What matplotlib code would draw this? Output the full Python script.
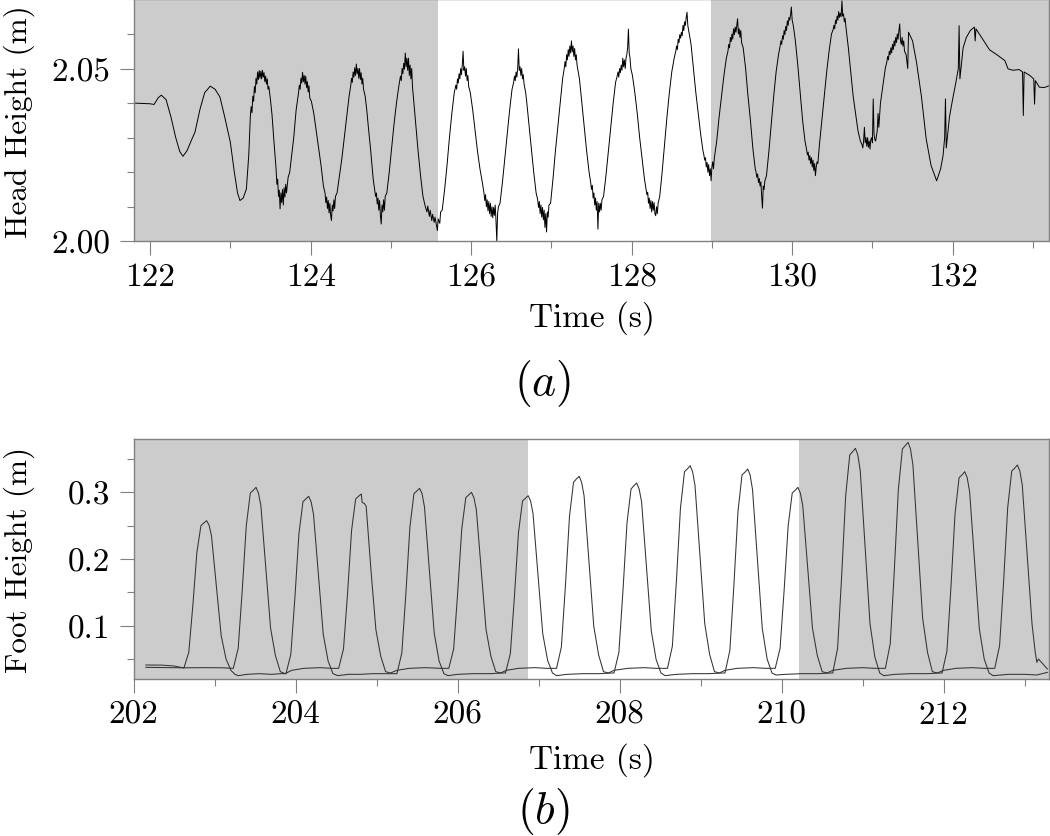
import matplotlib
matplotlib.use("Agg")
import matplotlib.pyplot as plt
from matplotlib.ticker import MultipleLocator, FormatStrFormatter

plt.rcParams['font.family'] = ['cmr10', 'DejaVu Serif']
plt.rcParams['mathtext.fontset'] = 'cm'
plt.rcParams['axes.unicode_minus'] = False
plt.rcParams['axes.formatter.use_mathtext'] = True

# ---------------- data: panel (a) head height (time, height) ----------------
head_pts = [
    (121.80, 2.0400), (121.90, 2.0399), (122.00, 2.0398), (122.05, 2.0396), (122.10, 2.0415),
    (122.14, 2.0423), (122.20, 2.0410), (122.26, 2.0360), (122.32, 2.0300), (122.37, 2.0260),
    (122.41, 2.0246), (122.46, 2.0262), (122.52, 2.0295), (122.56, 2.0316), (122.62, 2.0380),
    (122.68, 2.0430), (122.75, 2.0449), (122.81, 2.0440), (122.87, 2.0418), (122.93, 2.0360),
    (123.00, 2.0287), (123.05, 2.0200), (123.09, 2.0140), (123.12, 2.0118), (123.16, 2.0125),
    (123.20, 2.0151), (123.23, 2.0250),
    (123.25, 2.0364), (123.26, 2.0390), (123.27, 2.0372), (123.28, 2.0420), (123.29, 2.0405),
    (123.30, 2.0448), (123.31, 2.0430), (123.32, 2.0472), (123.33, 2.0455), (123.34, 2.0490),
    (123.35, 2.0468), (123.36, 2.0494), (123.37, 2.0472), (123.38, 2.0492), (123.39, 2.0470),
    (123.40, 2.0495), (123.41, 2.0475), (123.42, 2.0488), (123.43, 2.0462), (123.44, 2.0478),
    (123.45, 2.0455), (123.46, 2.0470), (123.47, 2.0440), (123.48, 2.0448), (123.50, 2.0410),
    (123.52, 2.0365), (123.54, 2.0300), (123.57, 2.0210), (123.58, 2.0165), (123.59, 2.0180),
    (123.60, 2.0130), (123.61, 2.0148), (123.62, 2.0094), (123.63, 2.0140), (123.64, 2.0112),
    (123.65, 2.0150), (123.66, 2.0105), (123.67, 2.0155), (123.68, 2.0128), (123.69, 2.0165),
    (123.70, 2.0140), (123.72, 2.0185), (123.74, 2.0200), (123.76, 2.0240), (123.79, 2.0300),
    (123.82, 2.0380), (123.85, 2.0430), (123.86, 2.0452), (123.87, 2.0440), (123.88, 2.0472),
    (123.89, 2.0458), (123.90, 2.0489), (123.91, 2.0462), (123.92, 2.0480), (123.93, 2.0455),
    (123.94, 2.0478), (123.95, 2.0445), (123.96, 2.0462), (123.97, 2.0432), (123.98, 2.0450),
    (123.99, 2.0415), (124.01, 2.0405), (124.04, 2.0370), (124.07, 2.0320), (124.10, 2.0270),
    (124.13, 2.0220), (124.16, 2.0160), (124.18, 2.0140), (124.19, 2.0112), (124.20, 2.0128),
    (124.21, 2.0095), (124.22, 2.0118), (124.23, 2.0082), (124.24, 2.0110), (124.25, 2.0075),
    (124.26, 2.0060), (124.27, 2.0105), (124.28, 2.0088), (124.29, 2.0120), (124.30, 2.0095),
    (124.31, 2.0130), (124.33, 2.0140), (124.36, 2.0190), (124.39, 2.0240), (124.42, 2.0300),
    (124.45, 2.0360), (124.48, 2.0420), (124.50, 2.0450), (124.51, 2.0472), (124.52, 2.0460),
    (124.53, 2.0490), (124.54, 2.0475), (124.55, 2.0502), (124.56, 2.0480), (124.57, 2.0513),
    (124.58, 2.0485), (124.59, 2.0500), (124.60, 2.0472), (124.61, 2.0500), (124.62, 2.0468),
    (124.63, 2.0488), (124.64, 2.0455), (124.65, 2.0472), (124.66, 2.0440), (124.68, 2.0420),
    (124.70, 2.0380), (124.72, 2.0330), (124.75, 2.0260), (124.78, 2.0180), (124.81, 2.0130),
    (124.82, 2.0140), (124.83, 2.0108), (124.84, 2.0125), (124.85, 2.0090), (124.86, 2.0118),
    (124.87, 2.0075), (124.88, 2.0050), (124.89, 2.0105), (124.90, 2.0085), (124.91, 2.0120),
    (124.92, 2.0090), (124.93, 2.0130), (124.95, 2.0140), (124.98, 2.0200), (125.01, 2.0270),
    (125.04, 2.0340), (125.07, 2.0400), (125.10, 2.0450), (125.12, 2.0478), (125.13, 2.0465),
    (125.14, 2.0500), (125.15, 2.0485), (125.16, 2.0515), (125.17, 2.0498), (125.18, 2.0545),
    (125.19, 2.0505), (125.20, 2.0530), (125.21, 2.0495), (125.22, 2.0530), (125.23, 2.0480),
    (125.24, 2.0510), (125.25, 2.0470), (125.26, 2.0500), (125.27, 2.0445), (125.28, 2.0420),
    (125.31, 2.0340), (125.34, 2.0260), (125.37, 2.0190), (125.40, 2.0130), (125.43, 2.0100),
    (125.45, 2.0085), (125.46, 2.0102), (125.48, 2.0072), (125.49, 2.0090), (125.51, 2.0060),
    (125.52, 2.0078), (125.54, 2.0055), (125.55, 2.0070), (125.57, 2.0045), (125.58, 2.0031),
    (125.59, 2.0065), (125.61, 2.0052), (125.62, 2.0085), (125.64, 2.0090), (125.67, 2.0150),
    (125.70, 2.0220), (125.73, 2.0300), (125.76, 2.0370), (125.79, 2.0430), (125.81, 2.0452),
    (125.82, 2.0440), (125.83, 2.0470), (125.84, 2.0458), (125.85, 2.0485), (125.86, 2.0470),
    (125.87, 2.0500), (125.88, 2.0482), (125.89, 2.0510), (125.90, 2.0550), (125.91, 2.0495),
    (125.92, 2.0505), (125.93, 2.0478), (125.94, 2.0500), (125.95, 2.0465), (125.96, 2.0480),
    (125.97, 2.0448), (125.99, 2.0430), (126.02, 2.0380), (126.05, 2.0320), (126.08, 2.0260),
    (126.11, 2.0210), (126.14, 2.0170), (126.16, 2.0140), (126.17, 2.0118), (126.18, 2.0135),
    (126.19, 2.0100), (126.20, 2.0120), (126.21, 2.0088), (126.22, 2.0115), (126.23, 2.0080),
    (126.24, 2.0110), (126.25, 2.0072), (126.26, 2.0100), (126.27, 2.0068), (126.28, 2.0098),
    (126.29, 2.0075), (126.30, 2.0105), (126.31, 2.0060), (126.32, 2.0000), (126.33, 2.0080),
    (126.34, 2.0100), (126.36, 2.0110), (126.39, 2.0170), (126.42, 2.0240), (126.45, 2.0310),
    (126.48, 2.0380), (126.51, 2.0440), (126.53, 2.0460), (126.54, 2.0478), (126.55, 2.0465),
    (126.56, 2.0490), (126.57, 2.0475), (126.58, 2.0500), (126.59, 2.0557), (126.60, 2.0495),
    (126.61, 2.0505), (126.62, 2.0480), (126.63, 2.0500), (126.64, 2.0470), (126.65, 2.0482),
    (126.66, 2.0455), (126.68, 2.0430), (126.69, 2.0410), (126.72, 2.0340), (126.75, 2.0270),
    (126.78, 2.0200), (126.81, 2.0140), (126.83, 2.0120), (126.84, 2.0098), (126.85, 2.0115),
    (126.86, 2.0080), (126.87, 2.0105), (126.88, 2.0070), (126.89, 2.0098), (126.90, 2.0062),
    (126.91, 2.0090), (126.92, 2.0040), (126.93, 2.0080), (126.94, 2.0027), (126.95, 2.0085),
    (126.96, 2.0070), (126.97, 2.0105), (126.99, 2.0110), (127.02, 2.0180), (127.05, 2.0260),
    (127.08, 2.0330), (127.11, 2.0400), (127.14, 2.0470), (127.16, 2.0500), (127.17, 2.0520),
    (127.18, 2.0505), (127.19, 2.0540), (127.20, 2.0525), (127.21, 2.0555), (127.22, 2.0535),
    (127.23, 2.0565), (127.24, 2.0545), (127.25, 2.0580), (127.26, 2.0548), (127.27, 2.0565),
    (127.28, 2.0535), (127.29, 2.0558), (127.30, 2.0525), (127.31, 2.0540), (127.32, 2.0510),
    (127.35, 2.0470), (127.38, 2.0400), (127.41, 2.0330), (127.44, 2.0260), (127.47, 2.0200),
    (127.49, 2.0170), (127.50, 2.0150), (127.51, 2.0162), (127.52, 2.0125), (127.53, 2.0140),
    (127.54, 2.0105), (127.55, 2.0125), (127.56, 2.0090), (127.57, 2.0115), (127.58, 2.0035),
    (127.59, 2.0110), (127.60, 2.0085), (127.61, 2.0110), (127.62, 2.0090), (127.63, 2.0120),
    (127.65, 2.0130), (127.68, 2.0190), (127.71, 2.0260), (127.74, 2.0330), (127.77, 2.0400),
    (127.80, 2.0460), (127.82, 2.0478), (127.83, 2.0490), (127.84, 2.0475), (127.85, 2.0500),
    (127.86, 2.0488), (127.87, 2.0510), (127.88, 2.0495), (127.89, 2.0530), (127.90, 2.0505),
    (127.91, 2.0525), (127.92, 2.0500), (127.93, 2.0530), (127.94, 2.0540), (127.95, 2.0560),
    (127.96, 2.0614), (127.97, 2.0545), (127.98, 2.0530), (127.99, 2.0500), (128.01, 2.0480),
    (128.04, 2.0430), (128.07, 2.0370), (128.10, 2.0300), (128.13, 2.0240), (128.16, 2.0180),
    (128.18, 2.0150), (128.19, 2.0135), (128.20, 2.0142), (128.21, 2.0110), (128.22, 2.0125),
    (128.23, 2.0095), (128.24, 2.0118), (128.25, 2.0085), (128.26, 2.0115), (128.27, 2.0090),
    (128.28, 2.0112), (128.29, 2.0080), (128.30, 2.0074), (128.31, 2.0100), (128.32, 2.0080),
    (128.33, 2.0110), (128.35, 2.0130), (128.38, 2.0200), (128.41, 2.0280), (128.44, 2.0360),
    (128.47, 2.0430), (128.50, 2.0490), (128.53, 2.0530), (128.55, 2.0550), (128.56, 2.0565),
    (128.57, 2.0555), (128.58, 2.0585), (128.59, 2.0575), (128.60, 2.0598), (128.61, 2.0588),
    (128.62, 2.0605), (128.63, 2.0595), (128.64, 2.0625), (128.65, 2.0610), (128.66, 2.0635),
    (128.67, 2.0625), (128.68, 2.0648), (128.69, 2.0663), (128.70, 2.0625), (128.71, 2.0610),
    (128.72, 2.0598), (128.74, 2.0570), (128.77, 2.0500), (128.80, 2.0430), (128.83, 2.0370),
    (128.86, 2.0310), (128.89, 2.0260), (128.90, 2.0250), (128.91, 2.0235), (128.92, 2.0242),
    (128.93, 2.0215), (128.94, 2.0228), (128.95, 2.0200), (128.96, 2.0222), (128.97, 2.0190),
    (128.98, 2.0210), (128.99, 2.0175), (129.00, 2.0215), (129.01, 2.0230), (129.02, 2.0210),
    (129.03, 2.0240), (129.06, 2.0290), (129.09, 2.0360), (129.12, 2.0420), (129.15, 2.0480),
    (129.18, 2.0530), (129.20, 2.0550), (129.21, 2.0570), (129.22, 2.0560), (129.23, 2.0590),
    (129.24, 2.0578), (129.25, 2.0600), (129.26, 2.0585), (129.27, 2.0615), (129.28, 2.0598),
    (129.29, 2.0620), (129.30, 2.0605), (129.31, 2.0625), (129.32, 2.0644), (129.33, 2.0600),
    (129.34, 2.0615), (129.35, 2.0590), (129.36, 2.0610), (129.37, 2.0575), (129.39, 2.0560),
    (129.42, 2.0500), (129.45, 2.0420), (129.48, 2.0350), (129.51, 2.0270), (129.54, 2.0210),
    (129.55, 2.0200), (129.56, 2.0185), (129.57, 2.0195), (129.58, 2.0170), (129.59, 2.0182),
    (129.60, 2.0160), (129.61, 2.0172), (129.62, 2.0130), (129.63, 2.0096), (129.64, 2.0160),
    (129.65, 2.0150), (129.66, 2.0175), (129.68, 2.0190), (129.71, 2.0260), (129.74, 2.0340),
    (129.77, 2.0420), (129.80, 2.0490), (129.83, 2.0540), (129.85, 2.0565), (129.86, 2.0580),
    (129.87, 2.0570), (129.88, 2.0595), (129.89, 2.0585), (129.90, 2.0610), (129.91, 2.0598),
    (129.92, 2.0622), (129.93, 2.0610), (129.94, 2.0638), (129.95, 2.0625), (129.96, 2.0648),
    (129.97, 2.0640), (129.98, 2.0655), (129.99, 2.0678), (130.00, 2.0640), (130.01, 2.0630),
    (130.02, 2.0615), (130.04, 2.0580), (130.07, 2.0510), (130.10, 2.0430), (130.13, 2.0350),
    (130.16, 2.0290), (130.18, 2.0265), (130.19, 2.0250), (130.20, 2.0258), (130.21, 2.0235),
    (130.22, 2.0248), (130.23, 2.0225), (130.24, 2.0242), (130.25, 2.0215), (130.26, 2.0235),
    (130.27, 2.0205), (130.28, 2.0225), (130.29, 2.0190), (130.30, 2.0215), (130.31, 2.0230),
    (130.32, 2.0225), (130.34, 2.0280), (130.37, 2.0350), (130.40, 2.0420), (130.43, 2.0490),
    (130.46, 2.0550), (130.49, 2.0600), (130.51, 2.0612), (130.52, 2.0625), (130.53, 2.0615),
    (130.54, 2.0640), (130.55, 2.0630), (130.56, 2.0652), (130.57, 2.0640), (130.58, 2.0665),
    (130.59, 2.0648), (130.60, 2.0660), (130.61, 2.0650), (130.62, 2.0696), (130.63, 2.0652),
    (130.64, 2.0658), (130.65, 2.0635), (130.66, 2.0645), (130.67, 2.0620), (130.70, 2.0560),
    (130.73, 2.0490), (130.76, 2.0420), (130.79, 2.0370), (130.82, 2.0320), (130.85, 2.0290),
    (130.87, 2.0280), (130.88, 2.0270), (130.89, 2.0290), (130.90, 2.0330), (130.91, 2.0285),
    (130.92, 2.0300), (130.93, 2.0275), (130.94, 2.0300), (130.95, 2.0272), (130.96, 2.0290),
    (130.97, 2.0267), (130.98, 2.0295), (130.99, 2.0300), (131.00, 2.0285), (131.01, 2.0412),
    (131.02, 2.0310), (131.03, 2.0295), (131.04, 2.0290), (131.06, 2.0320), (131.07, 2.0370),
    (131.08, 2.0330), (131.10, 2.0400), (131.13, 2.0450), (131.16, 2.0500), (131.18, 2.0520),
    (131.19, 2.0535), (131.20, 2.0525), (131.21, 2.0550), (131.22, 2.0540), (131.23, 2.0560),
    (131.24, 2.0545), (131.25, 2.0570), (131.26, 2.0555), (131.27, 2.0580), (131.28, 2.0565),
    (131.29, 2.0590), (131.30, 2.0575), (131.31, 2.0600), (131.32, 2.0585), (131.33, 2.0610),
    (131.34, 2.0629), (131.35, 2.0580), (131.36, 2.0570), (131.37, 2.0590), (131.38, 2.0565),
    (131.39, 2.0580), (131.40, 2.0550), (131.42, 2.0540), (131.44, 2.0500), (131.45, 2.0605),
    (131.50, 2.0580), (131.55, 2.0517), (131.61, 2.0420), (131.67, 2.0296), (131.73, 2.0220),
    (131.80, 2.0175), (131.85, 2.0210), (131.88, 2.0248), (131.90, 2.0300), (131.91, 2.0412),
    (131.92, 2.0270), (131.96, 2.0360), (132.00, 2.0412), (132.04, 2.0460), (132.07, 2.0500),
    (132.08, 2.0624), (132.09, 2.0470), (132.13, 2.0560), (132.17, 2.0590), (132.22, 2.0610),
    (132.27, 2.0620), (132.28, 2.0580), (132.29, 2.0615), (132.36, 2.0590), (132.46, 2.0554),
    (132.55, 2.0540), (132.65, 2.0523), (132.69, 2.0499), (132.75, 2.0495), (132.83, 2.0497),
    (132.87, 2.0490), (132.88, 2.0364), (132.89, 2.0490), (132.96, 2.0480), (133.01, 2.0470),
    (133.02, 2.0397), (133.03, 2.0465), (133.08, 2.0446), (133.14, 2.0445), (133.20, 2.0450),
]
head_t = [p[0] for p in head_pts]
head_h = [p[1] for p in head_pts]

# ---------------- data: panel (b) foot heights ----------------
footA_t = [202.15, 202.35, 202.50, 202.60,
           202.62, 202.68, 202.73, 202.78, 202.83, 202.865, 202.90, 202.93, 202.96, 203.02, 203.08, 203.14, 203.20,
           203.25, 203.29, 203.40, 203.55, 203.70, 203.82,
           203.88, 203.94, 203.99, 204.04, 204.09, 204.125, 204.16, 204.19, 204.22, 204.28, 204.34, 204.40, 204.46,
           204.52, 204.65, 204.80, 204.95, 205.15,
           205.25, 205.31, 205.36, 205.41, 205.46, 205.495, 205.53, 205.56, 205.59, 205.65, 205.71, 205.77, 205.83,
           205.88, 206.00, 206.20, 206.40, 206.55,
           206.59, 206.65, 206.70, 206.75, 206.80, 206.835, 206.87, 206.90, 206.93, 206.99, 207.05, 207.11, 207.17,
           207.22, 207.35, 207.55, 207.75, 207.90,
           207.93, 207.99, 208.04, 208.09, 208.14, 208.175, 208.21, 208.24, 208.27, 208.33, 208.39, 208.45, 208.51,
           208.56, 208.70, 208.90, 209.10, 209.26,
           209.30, 209.36, 209.41, 209.46, 209.51, 209.545, 209.58, 209.61, 209.64, 209.70, 209.76, 209.82, 209.88,
           209.93, 210.05, 210.25, 210.45, 210.60,
           210.63, 210.69, 210.74, 210.79, 210.84, 210.875, 210.91, 210.94, 210.97, 211.03, 211.09, 211.15, 211.21,
           211.26, 211.40, 211.60, 211.80, 211.95,
           211.98, 212.04, 212.09, 212.14, 212.19, 212.225, 212.26, 212.29, 212.32, 212.38, 212.44, 212.50, 212.56,
           212.61, 212.80, 213.00, 213.15, 213.28]
footA_h = [0.0410, 0.0408, 0.0395, 0.0370,
           0.0365, 0.060, 0.130, 0.210, 0.250, 0.254, 0.2575, 0.251, 0.235, 0.160, 0.085, 0.050, 0.033,
           0.027, 0.025, 0.027, 0.028, 0.027, 0.028,
           0.028, 0.057, 0.142, 0.238, 0.286, 0.290, 0.294, 0.286, 0.267, 0.177, 0.087, 0.047, 0.028,
           0.025, 0.027, 0.027, 0.028, 0.028,
           0.028, 0.059, 0.148, 0.248, 0.298, 0.302, 0.306, 0.298, 0.278, 0.184, 0.089, 0.047, 0.028,
           0.025, 0.027, 0.028, 0.028, 0.029,
           0.029, 0.058, 0.143, 0.239, 0.287, 0.291, 0.295, 0.287, 0.268, 0.178, 0.088, 0.048, 0.029,
           0.025, 0.027, 0.028, 0.028, 0.029,
           0.029, 0.060, 0.152, 0.254, 0.305, 0.310, 0.314, 0.305, 0.286, 0.189, 0.092, 0.049, 0.029,
           0.025, 0.027, 0.028, 0.028, 0.029,
           0.029, 0.063, 0.161, 0.271, 0.326, 0.330, 0.335, 0.326, 0.304, 0.200, 0.096, 0.050, 0.029,
           0.026, 0.027, 0.028, 0.028, 0.029,
           0.029, 0.066, 0.174, 0.295, 0.356, 0.361, 0.366, 0.356, 0.332, 0.218, 0.103, 0.053, 0.029,
           0.025, 0.027, 0.028, 0.028, 0.029,
           0.029, 0.062, 0.159, 0.268, 0.322, 0.326, 0.331, 0.322, 0.301, 0.198, 0.095, 0.050, 0.029,
           0.025, 0.027, 0.027, 0.026, 0.030]

footB_t = [202.15, 202.40, 202.60, 202.90, 203.10,
           203.23, 203.29, 203.34, 203.39, 203.44, 203.475, 203.51, 203.54, 203.57, 203.63, 203.69, 203.75, 203.81,
           203.87, 203.95, 204.10, 204.30, 204.45,
           204.53, 204.59, 204.64, 204.69, 204.74, 204.775, 204.81, 204.82, 204.85, 204.87, 204.93, 204.99, 205.05, 205.11,
           205.17, 205.25, 205.40, 205.60, 205.80,
           205.89, 205.95, 206.00, 206.05, 206.10, 206.135, 206.17, 206.20, 206.23, 206.29, 206.35, 206.41, 206.47,
           206.53, 206.60, 206.75, 206.95, 207.10,
           207.22, 207.28, 207.33, 207.38, 207.43, 207.465, 207.50, 207.53, 207.56, 207.62, 207.68, 207.74, 207.80,
           207.86, 207.93, 208.10, 208.30, 208.45,
           208.59, 208.65, 208.70, 208.75, 208.80, 208.835, 208.87, 208.90, 208.93, 208.99, 209.05, 209.11, 209.17,
           209.23, 209.30, 209.45, 209.65, 209.80,
           209.92, 209.98, 210.03, 210.08, 210.13, 210.165, 210.20, 210.23, 210.26, 210.32, 210.38, 210.44, 210.50,
           210.56, 210.63, 210.80, 211.00, 211.15,
           211.28, 211.34, 211.39, 211.44, 211.49, 211.525, 211.56, 211.59, 211.62, 211.68, 211.74, 211.80, 211.86,
           211.92, 212.00, 212.15, 212.35, 212.50,
           212.63, 212.69, 212.74, 212.79, 212.84, 212.875, 212.91, 212.94, 212.97, 213.03, 213.09, 213.13,
           213.15, 213.17, 213.28]
footB_h = [0.0375, 0.0372, 0.0368, 0.0370, 0.0368,
           0.036, 0.066, 0.153, 0.250, 0.299, 0.303, 0.3075, 0.299, 0.280, 0.188, 0.096, 0.055, 0.031,
           0.028, 0.033, 0.036, 0.037, 0.036,
           0.036, 0.065, 0.148, 0.243, 0.290, 0.294, 0.2975, 0.285, 0.283, 0.279, 0.182, 0.094, 0.054, 0.031,
           0.029, 0.033, 0.036, 0.037, 0.036,
           0.036, 0.065, 0.150, 0.245, 0.292, 0.296, 0.300, 0.292, 0.274, 0.184, 0.094, 0.054, 0.031,
           0.029, 0.033, 0.036, 0.037, 0.036,
           0.036, 0.068, 0.160, 0.264, 0.315, 0.320, 0.324, 0.315, 0.295, 0.197, 0.099, 0.056, 0.031,
           0.029, 0.033, 0.036, 0.037, 0.036,
           0.036, 0.069, 0.167, 0.276, 0.331, 0.335, 0.340, 0.331, 0.310, 0.206, 0.103, 0.057, 0.031,
           0.029, 0.033, 0.036, 0.037, 0.036,
           0.036, 0.066, 0.153, 0.250, 0.299, 0.303, 0.3075, 0.299, 0.280, 0.188, 0.096, 0.055, 0.031,
           0.029, 0.033, 0.036, 0.037, 0.036,
           0.036, 0.073, 0.182, 0.304, 0.365, 0.370, 0.375, 0.365, 0.341, 0.226, 0.111, 0.060, 0.031,
           0.029, 0.033, 0.036, 0.037, 0.036,
           0.036, 0.070, 0.167, 0.277, 0.332, 0.336, 0.341, 0.332, 0.311, 0.207, 0.103, 0.060,
           0.045, 0.050, 0.035]

# shaded (grey) time windows
head_shade = [(121.80, 125.59), (128.99, 133.30)]
foot_shade = [(202.00, 206.87), (210.21, 213.40)]

head_xlim = (121.80, 133.20)
head_ylim = (2.00, 2.07)
foot_xlim = (202.00, 213.30)
foot_ylim = (0.02, 0.38)

# ---------------- figure ----------------
W, H = 1050, 837
fig = plt.figure(figsize=(W / 100, H / 100), dpi=100)
fig.patch.set_facecolor('white')

SHADE = '#cccccc'
SPINE = '#808080'
FS = 24


def style(ax):
    for sp in ax.spines.values():
        sp.set_color(SPINE)
        sp.set_linewidth(1.0)
    ax.tick_params(which='major', direction='out', length=10, width=0.8,
                   color=SPINE, labelsize=FS, pad=5)
    ax.tick_params(which='minor', direction='out', length=5, width=0.8, color=SPINE)
    ax.tick_params(axis='y', which='major', pad=7)


ax1 = fig.add_axes([134 / W, 1 - 242.3 / H, 915 / W, 242.3 / H - 0.0005])
for a, b in head_shade:
    ax1.axvspan(a, b, color=SHADE, lw=0, zorder=0)
ax1.plot(head_t, head_h, color='black', lw=0.7, zorder=2)
ax1.set_xlim(*head_xlim)
ax1.set_ylim(*head_ylim)
ax1.xaxis.set_major_locator(MultipleLocator(2))
ax1.xaxis.set_minor_locator(MultipleLocator(1))
ax1.yaxis.set_major_locator(MultipleLocator(0.05))
ax1.yaxis.set_minor_locator(MultipleLocator(0.01))
ax1.xaxis.set_major_formatter(FormatStrFormatter('%d'))
ax1.yaxis.set_major_formatter(FormatStrFormatter('%.2f'))
style(ax1)

ax2 = fig.add_axes([133.7 / W, 1 - 680 / H, 915.3 / W, 240 / H])
for a, b in foot_shade:
    ax2.axvspan(a, b, color=SHADE, lw=0, zorder=0)
ax2.plot(footA_t, footA_h, color='#333333', lw=0.75, zorder=2)
ax2.plot(footB_t, footB_h, color='#333333', lw=0.75, zorder=2)
ax2.set_xlim(*foot_xlim)
ax2.set_ylim(*foot_ylim)
ax2.xaxis.set_major_locator(MultipleLocator(2))
ax2.xaxis.set_minor_locator(MultipleLocator(1))
ax2.yaxis.set_major_locator(MultipleLocator(0.1))
ax2.yaxis.set_minor_locator(MultipleLocator(0.05))
ax2.xaxis.set_major_formatter(FormatStrFormatter('%d'))
ax2.yaxis.set_major_formatter(FormatStrFormatter('%.1f'))
style(ax2)

# labels
fig.text(592 / W, 1 - 318 / H, 'Time (s)', ha='center', va='center', fontsize=FS)
fig.text(592 / W, 1 - 760 / H, 'Time (s)', ha='center', va='center', fontsize=FS)
fig.text(19 / W, 1 - 122 / H, 'Head Height (m)', rotation=90, ha='center', va='center', fontsize=22.5)
fig.text(19 / W, 1 - 560 / H, 'Foot Height (m)', rotation=90, ha='center', va='center', fontsize=22.5)
fig.text(543 / W, 1 - 384 / H, r'$(a)$', ha='center', va='center', fontsize=33)
fig.text(543 / W, 1 - 812 / H, r'$(b)$', ha='center', va='center', fontsize=33)

fig.savefig('out.png', dpi=100, facecolor='white')
